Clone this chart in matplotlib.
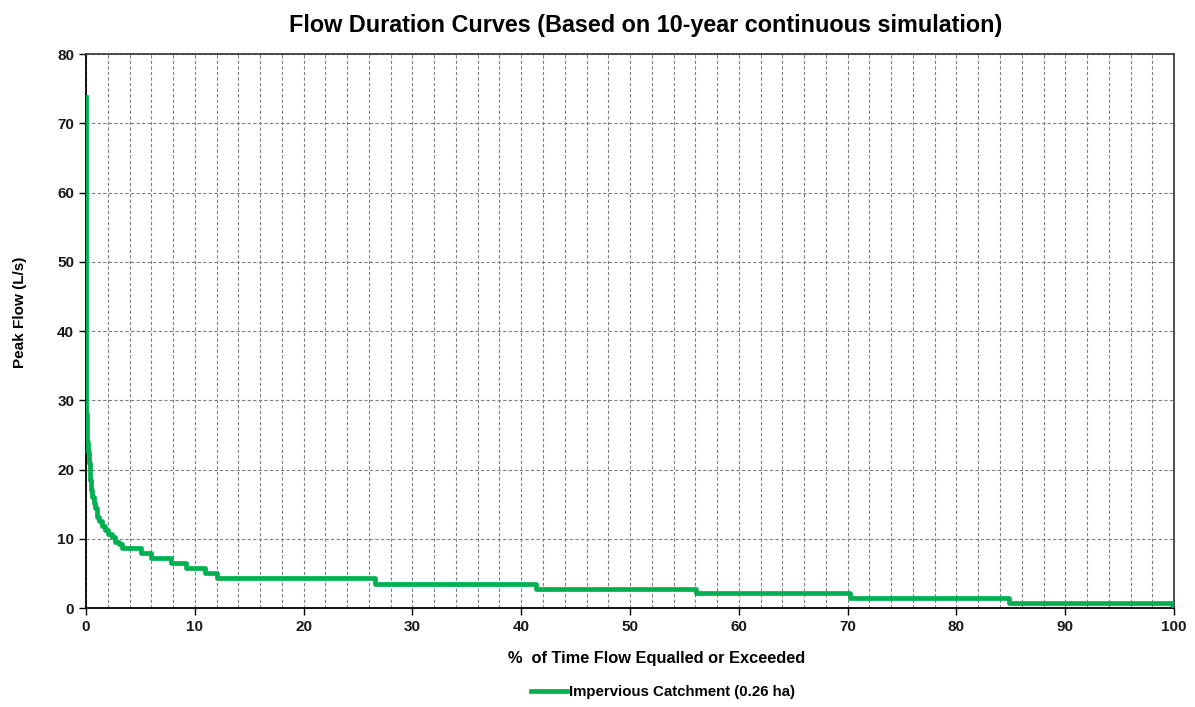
import matplotlib
matplotlib.use("Agg")
import matplotlib.pyplot as plt
from matplotlib.ticker import MultipleLocator

# Step levels: start of each level (% of time) and flow (L/s)
pct_start = [0.0, 0.03, 0.08, 0.15, 0.25, 0.35, 0.45, 0.55, 0.7, 0.85, 1.0,
             1.2, 1.45, 1.75, 2.05, 2.35, 2.7, 3.05, 3.3, 5.05, 5.97, 7.8,
             9.2, 10.9, 12.0, 26.6, 41.4, 56.1, 70.2, 84.8, 99.8, 100.0]
flow = [73.8, 28.0, 24.0, 22.5, 21.0, 18.5, 17.0, 16.0, 15.2, 14.4, 13.2,
        12.6, 11.9, 11.3, 10.7, 10.2, 9.6, 9.2, 8.6, 8.0, 7.2, 6.5,
        5.8, 5.1, 4.3, 3.5, 2.8, 2.1, 1.4, 0.7, 0.5, 0.0]

series_label = "Impervious Catchment (0.26 ha)"
title = "Flow Duration Curves (Based on 10-year continuous simulation)"
xlabel = "%  of Time Flow Equalled or Exceeded"
ylabel = "Peak Flow (L/s)"

plt.rcParams['font.family'] = ['Liberation Sans', 'DejaVu Sans']

fig = plt.figure(figsize=(11.95, 7.07), dpi=100)
ax = fig.add_axes([0.072, 0.14, 0.9105, 0.7835])

ax.plot(pct_start, flow, drawstyle='steps-post', color='#00B050', lw=3.4,
        label=series_label, solid_joinstyle='round', zorder=3)

ax.set_xlim(0, 100)
ax.set_ylim(0, 80)
ax.xaxis.set_major_locator(MultipleLocator(10))
ax.xaxis.set_minor_locator(MultipleLocator(2))
ax.yaxis.set_major_locator(MultipleLocator(10))

ax.grid(which='major', axis='y', color='#808080', ls=(0, (3, 2)), lw=0.8)
ax.grid(which='minor', axis='x', color='#808080', ls=(0, (3, 2)), lw=0.8)
ax.grid(which='major', axis='x', color='#808080', ls=(0, (3, 2)), lw=0.8)
ax.set_axisbelow(True)

for s in ['top', 'right']:
    ax.spines[s].set_color('#404040')
    ax.spines[s].set_linewidth(1.3)
for s in ['left', 'bottom']:
    ax.spines[s].set_color('black')
    ax.spines[s].set_linewidth(1.3)

ax.tick_params(which='major', direction='out', length=5, width=1,
               labelsize=11)
ax.tick_params(which='minor', length=0)
for lab in ax.get_xticklabels() + ax.get_yticklabels():
    lab.set_fontweight('bold')
    lab.set_color('#1a1a1a')

ax.set_title(title, fontsize=16.8, fontweight='bold', pad=16, x=0.514)
ax.set_xlabel(xlabel, fontsize=11.8, fontweight='bold')
ax.xaxis.set_label_coords(0.524, -0.078)
ax.set_ylabel(ylabel, fontsize=11, fontweight='bold')
ax.yaxis.set_label_coords(-0.054, 0.534)

fig.legend(loc='lower center', bbox_to_anchor=(0.555, -0.008), frameon=False,
           handlelength=2.4, handletextpad=0.1,
           prop={'weight': 'bold', 'size': 10.8})

fig.savefig('out.png', dpi=100)
